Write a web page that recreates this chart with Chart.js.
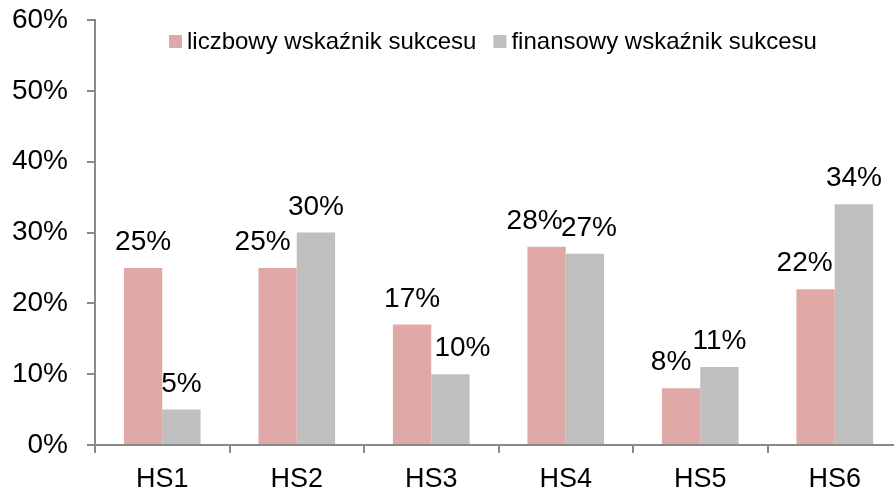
<!DOCTYPE html>
<html>
<head>
<meta charset="utf-8">
<script src="https://cdn.jsdelivr.net/npm/chart.js@4/dist/chart.umd.min.js"></script>
<style>
  html, body { margin: 0; padding: 0; background: #fff; overflow: hidden; }
  #wrap { width: 894px; height: 494px; overflow: hidden; position: relative; }
  #box { width: 902px; height: 494px; position: absolute; left: 0; top: 0; }
</style>
</head>
<body>
<div id="wrap"><div id="box"><canvas id="c"></canvas></div></div>
<script>
const categories = ['HS1', 'HS2', 'HS3', 'HS4', 'HS5', 'HS6'];
const seriesNames = ['liczbowy wskaźnik sukcesu', 'finansowy wskaźnik sukcesu'];
const liczbowy = [25, 25, 17, 28, 8, 22];
const finansowy = [5, 30, 10, 27, 11, 34];
const yTicks = [0, 10, 20, 30, 40, 50, 60];

const FONT = "'Liberation Sans', Arial, sans-serif";
const COLORS = ['#E0A9A8', '#BFBFBF'];
const AXIS = '#898989';
// horizontal nudges of value labels (to avoid overlaps, as in the original)
const labelShift = [
  [0, -15, 0, -12, -10, -11],
  [0, 0, 12, 4, 0, 0]
];

const valueLabels = {
  id: 'valueLabels',
  afterDatasetsDraw(chart) {
    const ctx = chart.ctx;
    ctx.save();
    ctx.font = '28px ' + FONT;
    ctx.fillStyle = '#000';
    ctx.textAlign = 'center';
    ctx.textBaseline = 'alphabetic';
    chart.data.datasets.forEach((ds, di) => {
      const meta = chart.getDatasetMeta(di);
      meta.data.forEach((el, i) => {
        ctx.fillText(ds.data[i] + '%', el.x + labelShift[di][i], el.y - 18);
      });
    });
    ctx.restore();
  }
};

const customLegend = {
  id: 'customLegend',
  afterDraw(chart) {
    const ctx = chart.ctx;
    ctx.save();
    ctx.font = '24px ' + FONT;
    ctx.textBaseline = 'alphabetic';
    ctx.textAlign = 'left';
    let x = 169;
    const boxTop = 35, box = 13, baseline = 49;
    chart.data.datasets.forEach((ds, di) => {
      ctx.fillStyle = ds.backgroundColor;
      ctx.fillRect(x, boxTop, box, box);
      ctx.fillStyle = '#000';
      ctx.fillText(ds.label, x + box + 5, baseline);
      x += box + 5 + ctx.measureText(ds.label).width + 17;
    });
    ctx.restore();
  }
};

new Chart(document.getElementById('c'), {
  type: 'bar',
  data: {
    labels: categories,
    datasets: [
      { label: seriesNames[0], data: liczbowy, backgroundColor: COLORS[0] },
      { label: seriesNames[1], data: finansowy, backgroundColor: COLORS[1] }
    ]
  },
  options: {
    responsive: true,
    maintainAspectRatio: false,
    animation: false,
    devicePixelRatio: 1,
    layout: { padding: { top: 20, right: 0, left: 0, bottom: 0 } },
    datasets: { bar: { barPercentage: 1, categoryPercentage: 0.57 } },
    plugins: { legend: { display: false }, tooltip: { enabled: false } },
    scales: {
      x: {
        afterFit(s) { s.height = 49; s.paddingLeft = 0; s.paddingRight = 0; },
        grid: { display: true, drawOnChartArea: false, drawTicks: true, tickLength: 8, color: AXIS, lineWidth: 2, offset: true },
        border: { color: AXIS, width: 2 },
        ticks: { color: '#000', font: { family: FONT, size: 27 }, padding: 10 }
      },
      y: {
        min: 0, max: 60,
        afterFit(s) { s.width = 95; s.paddingTop = 0; s.paddingBottom = 0; },
        afterBuildTicks(s) { s.ticks = yTicks.map(v => ({ value: v })); },
        grid: { display: true, drawOnChartArea: false, drawTicks: true, tickLength: 8, color: AXIS, lineWidth: 2 },
        border: { color: AXIS, width: 2 },
        ticks: { color: '#000', font: { family: FONT, size: 28 }, padding: 19, callback: v => v + '%' }
      }
    }
  },
  plugins: [valueLabels, customLegend]
});
</script>
</body>
</html>
